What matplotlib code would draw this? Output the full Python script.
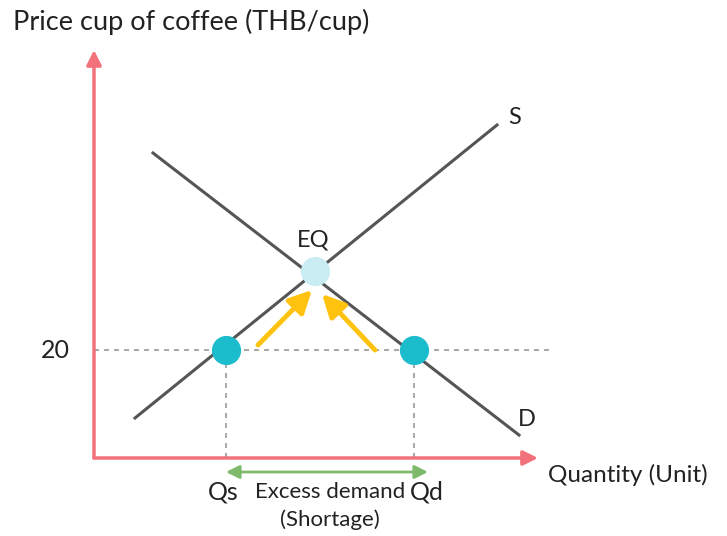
import matplotlib.pyplot as plt

plt.rcParams['font.family'] = ['Lato', 'DejaVu Sans']

# diagram coordinates: origin at the axes corner
supply_q = [41, 403]
supply_p = [40, 333]
demand_q = [59, 425]
demand_p = [305, 23]
eq_point = (221, 187)
price_20 = 108
qs, qd = 132, 320

axis_red = '#f2727b'
line_grey = '#555555'
teal = '#1bbccc'
light_teal = '#c9edf2'
yellow = '#ffc20e'
green = '#7dba6a'
txt = '#222222'

fig = plt.figure(figsize=(7.27, 5.36), dpi=100)
ax = fig.add_axes([0, 0, 1, 1])
ax.set_xlim(-94, 633)
ax.set_ylim(-78, 458)
ax.axis('off')

# axes arrows
ax.annotate('', xy=(0, 408), xytext=(0, 0),
            arrowprops=dict(arrowstyle='-|>', color=axis_red, lw=2.5, mutation_scale=22, shrinkA=0, shrinkB=0))
ax.annotate('', xy=(444, 0), xytext=(0, 0),
            arrowprops=dict(arrowstyle='-|>', color=axis_red, lw=2.5, mutation_scale=22, shrinkA=0, shrinkB=0))

# guide lines
ax.plot([0, 459], [price_20, price_20], ls=(0, (3, 3)), color='#999999', lw=1.2)
ax.plot([qs, qs], [0, price_20], ls=(0, (3, 3)), color='#999999', lw=1.2)
ax.plot([qd, qd], [0, price_20], ls=(0, (3, 3)), color='#999999', lw=1.2)

# supply and demand
ax.plot(supply_q, supply_p, color=line_grey, lw=2.2)
ax.plot(demand_q, demand_p, color=line_grey, lw=2.2)

# points
ax.plot(*eq_point, 'o', ms=20, color=light_teal, zorder=5)
ax.plot([qs, qd], [price_20, price_20], 'o', ms=20, color=teal, zorder=5)

# yellow arrows toward equilibrium
ax.annotate('', xy=(218, 168), xytext=(164, 113),
            arrowprops=dict(arrowstyle='-|>', color=yellow, lw=3.5, mutation_scale=34, shrinkA=0, shrinkB=0))
ax.annotate('', xy=(228, 164), xytext=(281, 108),
            arrowprops=dict(arrowstyle='-|>', color=yellow, lw=3.5, mutation_scale=34, shrinkA=0, shrinkB=0))

# shortage arrow
ax.annotate('', xy=(334, -14), xytext=(132, -14),
            arrowprops=dict(arrowstyle='<|-|>', color=green, lw=2, mutation_scale=20, shrinkA=0, shrinkB=0))

# text
ax.text(-81, 436, 'Price cup of coffee (THB/cup)', fontsize=19.5, va='center', ha='left', color=txt)
ax.text(-39, price_20, '20', fontsize=18, va='center', ha='center', color=txt)
ax.text(421, 340, 'S', fontsize=17, va='center', ha='center', color=txt)
ax.text(433, 39, 'D', fontsize=17, va='center', ha='center', color=txt)
ax.text(219, 218, 'EQ', fontsize=17, va='center', ha='center', color=txt)
ax.text(454, -17, 'Quantity (Unit)', fontsize=17.5, va='center', ha='left', color=txt)
ax.text(129, -34, 'Qs', fontsize=18, va='center', ha='center', color=txt)
ax.text(333, -34, 'Qd', fontsize=18, va='center', ha='center', color=txt)
ax.text(236, -34, 'Excess demand', fontsize=16, va='center', ha='center', color=txt)
ax.text(236, -62, '(Shortage)', fontsize=16, va='center', ha='center', color=txt)

fig.savefig('out.png', dpi=100)
